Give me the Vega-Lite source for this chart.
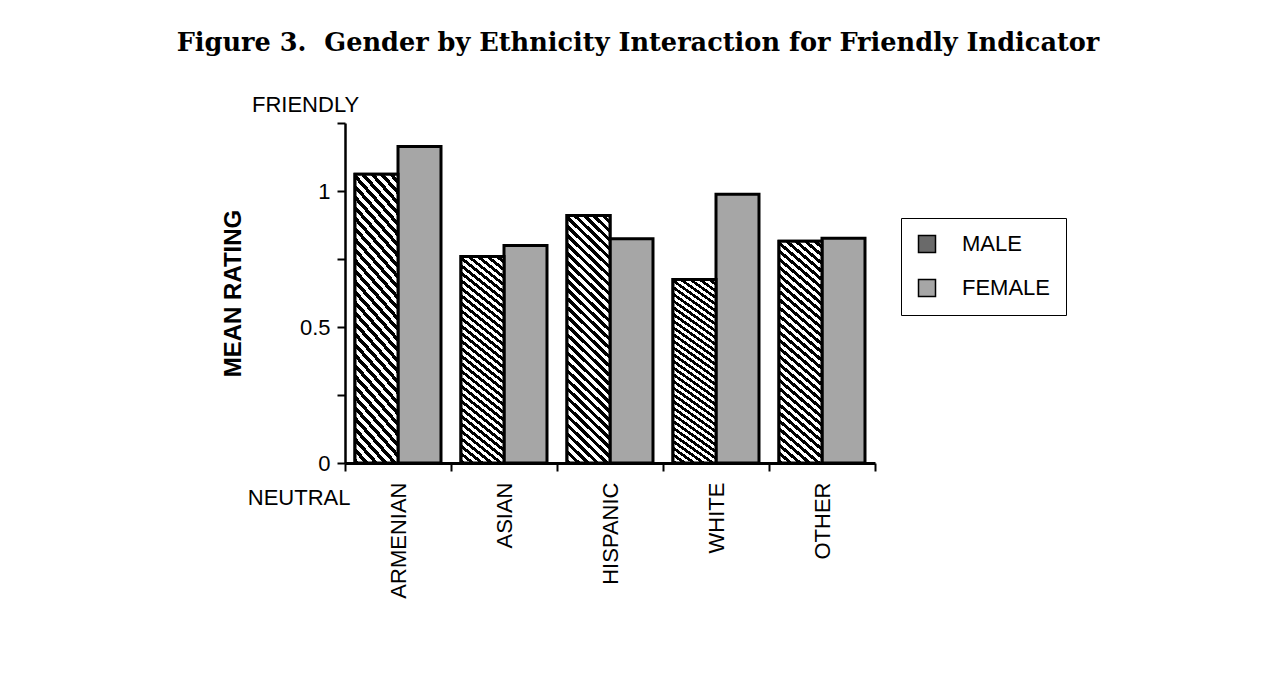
{
  "$schema": "https://vega.github.io/schema/vega-lite/v6.json",
  "autosize": "none",
  "width": 530,
  "height": 340,
  "padding": {"left": 345, "top": 123, "right": 396, "bottom": 213},
  "background": "white",
  "title": {
    "text": "Figure 3.\u00a0 Gender by Ethnicity Interaction for Friendly Indicator",
    "font": "DejaVu Serif",
    "fontSize": 25.6,
    "fontWeight": "bold",
    "color": "black",
    "anchor": "middle",
    "frame": "group",
    "dx": 28,
    "offset": 37
  },
  "config": {"view": {"stroke": null}, "font": "Liberation Sans"},
  "data": {
    "values": [
      {"ethnicity": "ARMENIAN", "gender": "MALE", "rating": 1.062},
      {"ethnicity": "ARMENIAN", "gender": "FEMALE", "rating": 1.164},
      {"ethnicity": "ASIAN", "gender": "MALE", "rating": 0.759},
      {"ethnicity": "ASIAN", "gender": "FEMALE", "rating": 0.8},
      {"ethnicity": "HISPANIC", "gender": "MALE", "rating": 0.91},
      {"ethnicity": "HISPANIC", "gender": "FEMALE", "rating": 0.824},
      {"ethnicity": "WHITE", "gender": "MALE", "rating": 0.675},
      {"ethnicity": "WHITE", "gender": "FEMALE", "rating": 0.988},
      {"ethnicity": "OTHER", "gender": "MALE", "rating": 0.815},
      {"ethnicity": "OTHER", "gender": "FEMALE", "rating": 0.826}
    ]
  },
  "layer": [
    {
      "mark": {"type": "bar", "stroke": "black", "strokeWidth": 3, "strokeJoin": "miter", "opacity": 1},
      "encoding": {
        "x": {
          "field": "ethnicity",
          "type": "nominal",
          "sort": ["ARMENIAN", "ASIAN", "HISPANIC", "WHITE", "OTHER"],
          "scale": {"paddingInner": 0, "paddingOuter": 0},
          "axis": {
            "title": "NEUTRAL",
            "titleAngle": 0,
            "titleAlign": "right",
            "titleBaseline": "middle",
            "titleX": 5,
            "titleY": 34,
            "titleFontSize": 22,
            "titleFontWeight": "normal",
            "titleFont": "Liberation Sans",
            "titleColor": "black",
            "labelAngle": -90,
            "labelFontSize": 22,
            "labelFont": "Liberation Sans",
            "labelColor": "black",
            "labelPadding": 11,
            "tickSize": 8,
            "tickWidth": 2,
            "tickColor": "black",
            "tickBand": "extent",
            "domainColor": "black",
            "domainWidth": 3
          }
        },
        "xOffset": {
          "field": "gender",
          "scale": {"domain": ["MALE", "FEMALE"], "paddingInner": 0, "paddingOuter": 0.2326}
        },
        "y": {
          "field": "rating",
          "type": "quantitative",
          "scale": {"domain": [0, 1.25], "nice": false},
          "axis": {
            "title": "MEAN RATING",
            "titleFontSize": 24,
            "titleFontWeight": "bold",
            "titleFont": "Liberation Sans",
            "titleColor": "black",
            "titlePadding": 54,
            "values": [0, 0.25, 0.5, 0.75, 1, 1.25],
            "labelExpr": "datum.value == 0 ? '0' : datum.value == 0.5 ? '0.5' : datum.value == 1 ? '1' : ''",
            "labelFontSize": 22,
            "labelFont": "Liberation Sans",
            "labelColor": "black",
            "labelPadding": 7,
            "tickSize": 8,
            "tickWidth": 2,
            "tickColor": "black",
            "domainColor": "black",
            "domainWidth": 2.5,
            "grid": false
          }
        },
        "color": {
          "field": "gender",
          "type": "nominal",
          "scale": {"domain": ["MALE", "FEMALE"], "range": ["#6a6a6a", "#a6a6a6"]},
          "legend": {
            "title": null,
            "orient": "none",
            "legendX": 556,
            "legendY": 95,
            "direction": "vertical",
            "symbolType": "square",
            "symbolSize": 289,
            "symbolStrokeColor": "black",
            "symbolStrokeWidth": 1.5,
            "symbolOpacity": 1,
            "labelFontSize": 22,
            "labelFont": "Liberation Sans",
            "labelColor": "black",
            "labelOffset": 24,
            "rowPadding": 20,
            "padding": 15,
            "strokeColor": "black",
            "fillColor": "white",
            "cornerRadius": 0,
            "encode": {
              "symbols": {
                "update": {
                  "stroke": {"value": "black"},
                  "strokeWidth": {"value": 1.5},
                  "fill": {"signal": "datum.value === 'MALE' ? {gradient: 'linear', x1: 0, y1: 0, x2: 1, y2: 1, stops: [{offset: 0, color: 'black'}, {offset: 0.1, color: 'black'}, {offset: 0.1, color: 'white'}, {offset: 0.2, color: 'white'}, {offset: 0.2, color: 'black'}, {offset: 0.3, color: 'black'}, {offset: 0.3, color: 'white'}, {offset: 0.4, color: 'white'}, {offset: 0.4, color: 'black'}, {offset: 0.5, color: 'black'}, {offset: 0.5, color: 'white'}, {offset: 0.6, color: 'white'}, {offset: 0.6, color: 'black'}, {offset: 0.7, color: 'black'}, {offset: 0.7, color: 'white'}, {offset: 0.8, color: 'white'}, {offset: 0.8, color: 'black'}, {offset: 0.9, color: 'black'}, {offset: 0.9, color: 'white'}, {offset: 1, color: 'white'}]} : '#a6a6a6'"}
                }
              }
            }
          }
        }
      }
    },
    {
      "transform": [{"filter": "datum.gender === 'MALE'"}],
      "mark": {
        "type": "bar",
        "stroke": "black",
        "strokeWidth": 3,
        "strokeJoin": "miter",
        "opacity": 1,
        "fill": {
          "gradient": "linear",
          "x1": 0, "y1": 1, "x2": 0.189, "y2": -0.135,
          "stops": [
            {"offset": 0, "color": "black"}, {"offset": 0.015625, "color": "black"}, {"offset": 0.015625, "color": "white"}, {"offset": 0.03125, "color": "white"},
            {"offset": 0.03125, "color": "black"}, {"offset": 0.046875, "color": "black"}, {"offset": 0.046875, "color": "white"}, {"offset": 0.0625, "color": "white"},
            {"offset": 0.0625, "color": "black"}, {"offset": 0.078125, "color": "black"}, {"offset": 0.078125, "color": "white"}, {"offset": 0.09375, "color": "white"},
            {"offset": 0.09375, "color": "black"}, {"offset": 0.109375, "color": "black"}, {"offset": 0.109375, "color": "white"}, {"offset": 0.125, "color": "white"},
            {"offset": 0.125, "color": "black"}, {"offset": 0.140625, "color": "black"}, {"offset": 0.140625, "color": "white"}, {"offset": 0.15625, "color": "white"},
            {"offset": 0.15625, "color": "black"}, {"offset": 0.171875, "color": "black"}, {"offset": 0.171875, "color": "white"}, {"offset": 0.1875, "color": "white"},
            {"offset": 0.1875, "color": "black"}, {"offset": 0.203125, "color": "black"}, {"offset": 0.203125, "color": "white"}, {"offset": 0.21875, "color": "white"},
            {"offset": 0.21875, "color": "black"}, {"offset": 0.234375, "color": "black"}, {"offset": 0.234375, "color": "white"}, {"offset": 0.25, "color": "white"},
            {"offset": 0.25, "color": "black"}, {"offset": 0.265625, "color": "black"}, {"offset": 0.265625, "color": "white"}, {"offset": 0.28125, "color": "white"},
            {"offset": 0.28125, "color": "black"}, {"offset": 0.296875, "color": "black"}, {"offset": 0.296875, "color": "white"}, {"offset": 0.3125, "color": "white"},
            {"offset": 0.3125, "color": "black"}, {"offset": 0.328125, "color": "black"}, {"offset": 0.328125, "color": "white"}, {"offset": 0.34375, "color": "white"},
            {"offset": 0.34375, "color": "black"}, {"offset": 0.359375, "color": "black"}, {"offset": 0.359375, "color": "white"}, {"offset": 0.375, "color": "white"},
            {"offset": 0.375, "color": "black"}, {"offset": 0.390625, "color": "black"}, {"offset": 0.390625, "color": "white"}, {"offset": 0.40625, "color": "white"},
            {"offset": 0.40625, "color": "black"}, {"offset": 0.421875, "color": "black"}, {"offset": 0.421875, "color": "white"}, {"offset": 0.4375, "color": "white"},
            {"offset": 0.4375, "color": "black"}, {"offset": 0.453125, "color": "black"}, {"offset": 0.453125, "color": "white"}, {"offset": 0.46875, "color": "white"},
            {"offset": 0.46875, "color": "black"}, {"offset": 0.484375, "color": "black"}, {"offset": 0.484375, "color": "white"}, {"offset": 0.5, "color": "white"},
            {"offset": 0.5, "color": "black"}, {"offset": 0.515625, "color": "black"}, {"offset": 0.515625, "color": "white"}, {"offset": 0.53125, "color": "white"},
            {"offset": 0.53125, "color": "black"}, {"offset": 0.546875, "color": "black"}, {"offset": 0.546875, "color": "white"}, {"offset": 0.5625, "color": "white"},
            {"offset": 0.5625, "color": "black"}, {"offset": 0.578125, "color": "black"}, {"offset": 0.578125, "color": "white"}, {"offset": 0.59375, "color": "white"},
            {"offset": 0.59375, "color": "black"}, {"offset": 0.609375, "color": "black"}, {"offset": 0.609375, "color": "white"}, {"offset": 0.625, "color": "white"},
            {"offset": 0.625, "color": "black"}, {"offset": 0.640625, "color": "black"}, {"offset": 0.640625, "color": "white"}, {"offset": 0.65625, "color": "white"},
            {"offset": 0.65625, "color": "black"}, {"offset": 0.671875, "color": "black"}, {"offset": 0.671875, "color": "white"}, {"offset": 0.6875, "color": "white"},
            {"offset": 0.6875, "color": "black"}, {"offset": 0.703125, "color": "black"}, {"offset": 0.703125, "color": "white"}, {"offset": 0.71875, "color": "white"},
            {"offset": 0.71875, "color": "black"}, {"offset": 0.734375, "color": "black"}, {"offset": 0.734375, "color": "white"}, {"offset": 0.75, "color": "white"},
            {"offset": 0.75, "color": "black"}, {"offset": 0.765625, "color": "black"}, {"offset": 0.765625, "color": "white"}, {"offset": 0.78125, "color": "white"},
            {"offset": 0.78125, "color": "black"}, {"offset": 0.796875, "color": "black"}, {"offset": 0.796875, "color": "white"}, {"offset": 0.8125, "color": "white"},
            {"offset": 0.8125, "color": "black"}, {"offset": 0.828125, "color": "black"}, {"offset": 0.828125, "color": "white"}, {"offset": 0.84375, "color": "white"},
            {"offset": 0.84375, "color": "black"}, {"offset": 0.859375, "color": "black"}, {"offset": 0.859375, "color": "white"}, {"offset": 0.875, "color": "white"},
            {"offset": 0.875, "color": "black"}, {"offset": 0.890625, "color": "black"}, {"offset": 0.890625, "color": "white"}, {"offset": 0.90625, "color": "white"},
            {"offset": 0.90625, "color": "black"}, {"offset": 0.921875, "color": "black"}, {"offset": 0.921875, "color": "white"}, {"offset": 0.9375, "color": "white"},
            {"offset": 0.9375, "color": "black"}, {"offset": 0.953125, "color": "black"}, {"offset": 0.953125, "color": "white"}, {"offset": 0.96875, "color": "white"},
            {"offset": 0.96875, "color": "black"}, {"offset": 0.984375, "color": "black"}, {"offset": 0.984375, "color": "white"}, {"offset": 1, "color": "white"}
          ]
        }
      },
      "encoding": {
        "x": {"field": "ethnicity", "type": "nominal", "sort": ["ARMENIAN", "ASIAN", "HISPANIC", "WHITE", "OTHER"]},
        "xOffset": {"field": "gender"},
        "y": {"field": "rating", "type": "quantitative"}
      }
    },
    {
      "data": {"values": [{"label": "FRIENDLY", "pos": 1.25}]},
      "mark": {
        "type": "text",
        "align": "left",
        "baseline": "middle",
        "dx": -93,
        "dy": -18,
        "fontSize": 22,
        "font": "Liberation Sans",
        "fill": "black"
      },
      "encoding": {
        "text": {"field": "label", "type": "nominal"},
        "y": {"field": "pos", "type": "quantitative"},
        "x": {"value": 0}
      }
    }
  ]
}
